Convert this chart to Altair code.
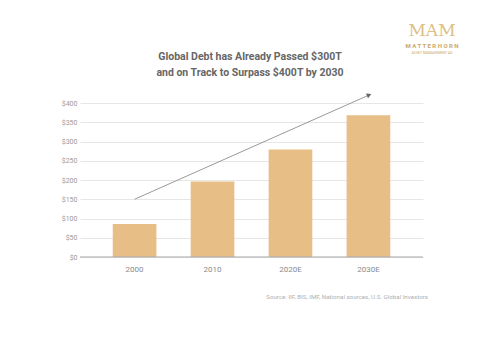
import altair as alt
import pandas as pd

years = ["2000", "2010", "2020E", "2030E"]
debt = [86, 196, 279, 368]
arrow_x = ["2000", "2030E"]
arrow_y = [150, 420]
y_ticks = [0, 50, 100, 150, 200, 250, 300, 350, 400]
title_lines = ["Global Debt has Already Passed $300T", "and on Track to Surpass $400T by 2030"]

bars_df = pd.DataFrame({"year": years, "debt": debt})
arrow_df = pd.DataFrame({"year": arrow_x, "v": arrow_y})
head_df = pd.DataFrame({"year": [arrow_x[-1]], "v": [arrow_y[-1]]})

xscale = alt.Scale(domain=years, paddingInner=0.44, paddingOuter=0.42)
yscale = alt.Scale(domain=[0, 400])

GRID = "#e6e6e6"
TXT = "#8a8a8a"

xaxis = alt.Axis(labelAngle=0, domain=False, ticks=False, labelPadding=8, grid=False,
                 labelColor=TXT, labelFontSize=8, labelFont="Roboto")
yaxis = alt.Axis(values=y_ticks, labelExpr="'$' + datum.value", domain=False, ticks=False,
                 labelPadding=3, gridColor=GRID, labelColor="#9a9a9a",
                 labelFontSize=7, labelFont="Roboto")


def X(field):
    return alt.X(field, scale=xscale, sort=years, title=None, axis=xaxis)


def Y(field):
    return alt.Y(field, scale=yscale, title=None, axis=yaxis)


bars = alt.Chart(bars_df).mark_bar(color="#E7BE86").encode(x=X("year:N"), y=Y("debt:Q"))

base = alt.Chart(pd.DataFrame({"z": [0]})).mark_rule(color="#a8a8a8", strokeWidth=1.2).encode(
    y=Y("z:Q")
)

arrow = alt.Chart(arrow_df).mark_line(color="#9a9a9a", strokeWidth=1).encode(
    x=X("year:N"), y=Y("v:Q"))

head = alt.Chart(head_df).mark_point(shape="triangle", filled=True, color="#666666",
                                     angle=67, size=28, opacity=1).encode(
    x=X("year:N"), y=Y("v:Q"))

TFONT = "Roboto"
title1 = alt.Chart(pd.DataFrame({"t": [title_lines[0]]})).mark_text(
    font=TFONT, fontSize=10.5, fontWeight="bold", color="#666666", align="center", baseline="middle"
).encode(text="t:N", x=alt.value(170), y=alt.value(-46))
title2 = alt.Chart(pd.DataFrame({"t": [title_lines[1]]})).mark_text(
    font=TFONT, fontSize=10.5, fontWeight="bold", color="#666666", align="center", baseline="middle"
).encode(text="t:N", x=alt.value(170), y=alt.value(-30))

logo = alt.Chart(pd.DataFrame({"t": ["MAM"]})).mark_text(
    font="DejaVu Serif", fontSize=17, color="#DDBF85", align="center", baseline="middle"
).encode(text="t:N", x=alt.value(352), y=alt.value(-72))
logo2 = alt.Chart(pd.DataFrame({"t": ["M A T T E R H O R N"]})).mark_text(
    font="Roboto", fontSize=6, fontWeight="bold", color="#C9A868", align="center", baseline="middle"
).encode(text="t:N", x=alt.value(352), y=alt.value(-57))
logo3 = alt.Chart(pd.DataFrame({"t": ["ASSET MANAGEMENT AG"]})).mark_text(
    font="Roboto", fontSize=3.5, color="#C9A868", align="center", baseline="middle"
).encode(text="t:N", x=alt.value(352), y=alt.value(-50))

source = alt.Chart(pd.DataFrame({"t": ["Source: IIF, BIS, IMF, National sources, U.S. Global Investors"]})).mark_text(
    font="Roboto", fontSize=6.2, color="#b0b0b0", align="right", baseline="middle"
).encode(text="t:N", x=alt.value(348), y=alt.value(194))

chart = alt.layer(bars, base, arrow, head, title1, title2, logo, logo2, logo3, source).properties(
    width=343, height=154,
    background="white",
    autosize=alt.AutoSizeParams(type="none"),
    padding={"left": 80, "top": 103, "right": 62, "bottom": 83},
).configure_view(strokeWidth=0, stroke="transparent").configure_axisX(grid=False)

chart.save("out.html", embed_options={"renderer": "svg", "actions": False})
